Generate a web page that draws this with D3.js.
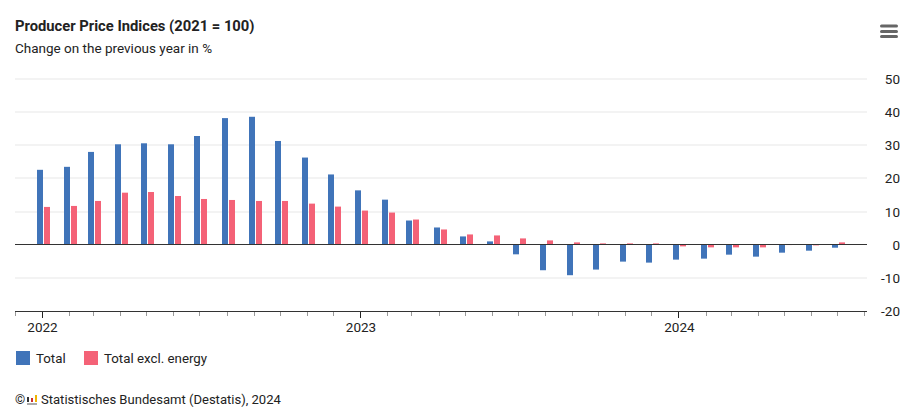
<!DOCTYPE html>
<html>
<head>
<meta charset="utf-8">
<script src="https://cdn.jsdelivr.net/npm/d3@7"></script>
<style>
  body { margin: 0; background: #fff; }
  svg { display: block; }
  text { font-family: Roboto, sans-serif; fill: #222; }
</style>
</head>
<body>
<div id="chart-container"></div>
<script>
const months = [
  "2022-01", "2022-02", "2022-03", "2022-04", "2022-05", "2022-06", "2022-07", "2022-08", "2022-09", "2022-10", "2022-11", "2022-12",
  "2023-01", "2023-02", "2023-03", "2023-04", "2023-05", "2023-06", "2023-07", "2023-08", "2023-09", "2023-10", "2023-11", "2023-12",
  "2024-01", "2024-02", "2024-03", "2024-04", "2024-05", "2024-06", "2024-07"
];
const total = [
  22.6, 23.5, 28.0, 30.3, 30.6, 30.3, 32.8, 38.2, 38.6, 31.3, 26.3, 21.2,
  16.4, 13.6, 7.3, 5.2, 2.5, 1.0, -2.9, -7.7, -9.2, -7.5, -5.1, -5.4,
  -4.5, -4.2, -3.0, -3.6, -2.4, -1.8, -0.9
];
const totalExclEnergy = [
  11.4, 11.7, 13.2, 15.7, 15.9, 14.7, 13.8, 13.5, 13.2, 13.2, 12.4, 11.5,
  10.3, 9.7, 7.6, 4.6, 3.1, 2.8, 1.9, 1.3, 0.7, 0.4, 0.4, 0.4,
  -0.5, -0.8, -0.8, -0.8, -0.1, -0.2, 0.7
];
const yTicks = [-20, -10, 0, 10, 20, 30, 40, 50];
const yearTicks = ["2022-01", "2023-01", "2024-01"];
const legendItems = ["Total", "Total excl. energy"];

const width = 916, height = 418;
const colors = ["#4074b9", "#f46277"];
const parseMonth = d3.utcParse("%Y-%m");

const svg = d3.select("#chart-container")
  .append("svg")
  .attr("width", width)
  .attr("height", height);

const xScale = d3.scaleUtc()
  .domain([new Date(Date.UTC(2021, 11, 1)), new Date(Date.UTC(2024, 7, 3, 12))])
  .range([15, 867]);

const yScale = d3.scaleLinear()
  .domain([-20, 50])
  .range([311, 79]);

// auf ganze Pixel einrasten, wie im Original
const snapX = d => Math.round(xScale(d) + 0.5);

// Gitternetz und rechte Achse
svg.append("g")
  .selectAll("line")
  .data(yTicks.filter(d => d !== 0 && d !== -20))
  .enter()
  .append("line")
  .attr("x1", 15)
  .attr("x2", 867)
  .attr("y1", d => Math.round(yScale(d)))
  .attr("y2", d => Math.round(yScale(d)))
  .attr("stroke", "#f3f3f3")
  .attr("stroke-width", 2);

svg.append("g")
  .selectAll("text")
  .data(yTicks)
  .enter()
  .append("text")
  .attr("x", 900)
  .attr("y", d => yScale(d) + 5)
  .attr("text-anchor", "end")
  .attr("font-size", 13.5)
  .text(d => d);

// Balken
const barWidth = 6;
[total, totalExclEnergy].forEach((series, s) => {
  svg.append("g")
    .selectAll("rect")
    .data(series)
    .enter()
    .append("rect")
    .attr("x", (d, i) => snapX(parseMonth(months[i])) + (s === 0 ? -barWidth : 1))
    .attr("y", d => yScale(Math.max(d, 0)))
    .attr("width", barWidth)
    .attr("height", d => Math.abs(yScale(d) - yScale(0)))
    .attr("fill", colors[s]);
});

// Nulllinie
svg.append("line")
  .attr("x1", 15)
  .attr("x2", 867)
  .attr("y1", Math.floor(yScale(0)) + 0.5)
  .attr("y2", Math.floor(yScale(0)) + 0.5)
  .attr("stroke", "#333")
  .attr("stroke-width", 1);

// x-Achse
const tickDates = d3.utcMonth.range(xScale.domain()[0], xScale.domain()[1]);
const xAxis = svg.append("g").attr("transform", `translate(0,${yScale(-20)})`);

xAxis.append("line")
  .attr("x1", 15)
  .attr("x2", 867)
  .attr("y1", 0.5)
  .attr("y2", 0.5)
  .attr("stroke", "#333")
  .attr("stroke-width", 1);

xAxis.selectAll("line.tick")
  .data(tickDates)
  .enter()
  .append("line")
  .attr("class", "tick")
  .attr("x1", d => snapX(d) - 0.5)
  .attr("x2", d => snapX(d) - 0.5)
  .attr("y1", 1)
  .attr("y2", d => d.getUTCMonth() === 0 ? 7 : 5)
  .attr("stroke", d => d.getUTCMonth() === 0 ? "#222" : "#999");

xAxis.selectAll("text")
  .data(yearTicks)
  .enter()
  .append("text")
  .attr("x", d => xScale(parseMonth(d)) + 0.5)
  .attr("y", 21)
  .attr("text-anchor", "middle")
  .attr("font-size", 13.5)
  .text(d => d.slice(0, 4));

// Titel
svg.append("text")
  .attr("x", 15)
  .attr("y", 31)
  .attr("font-size", 14.75)
  .attr("font-weight", 700)
  .text("Producer Price Indices (2021 = 100)");

svg.append("text")
  .attr("x", 15)
  .attr("y", 53)
  .attr("font-size", 13.5)
  .text("Change on the previous year in %");

// Legende
const legendX = [16, 84];
legendItems.forEach((label, i) => {
  svg.append("rect")
    .attr("x", legendX[i])
    .attr("y", 351)
    .attr("width", 14)
    .attr("height", 14)
    .attr("fill", colors[i]);
  svg.append("text")
    .attr("x", legendX[i] + 20)
    .attr("y", 363)
    .attr("font-size", 13.3)
    .text(label);
});

// Menü-Symbol
[26, 31.5, 36.5].forEach(y => {
  svg.append("line")
    .attr("x1", 881.5)
    .attr("x2", 896.5)
    .attr("y1", y)
    .attr("y2", y)
    .attr("stroke", "#666")
    .attr("stroke-width", 3)
    .attr("stroke-linecap", "round");
});

// Quelle
svg.append("text")
  .attr("x", 15)
  .attr("y", 404)
  .attr("font-size", 13)
  .text("©");

svg.append("rect").attr("x", 27).attr("y", 403).attr("width", 10).attr("height", 2).attr("fill", "#aaa");
svg.append("rect").attr("x", 27).attr("y", 397).attr("width", 2).attr("height", 5).attr("fill", "#333");
svg.append("rect").attr("x", 31).attr("y", 398).attr("width", 2).attr("height", 4).attr("fill", "#d0312d");
svg.append("rect").attr("x", 35).attr("y", 395).attr("width", 2).attr("height", 7).attr("fill", "#f0b400");

svg.append("text")
  .attr("x", 41)
  .attr("y", 404)
  .attr("font-size", 13.05)
  .text("Statistisches Bundesamt (Destatis), 2024");
</script>
</body>
</html>
